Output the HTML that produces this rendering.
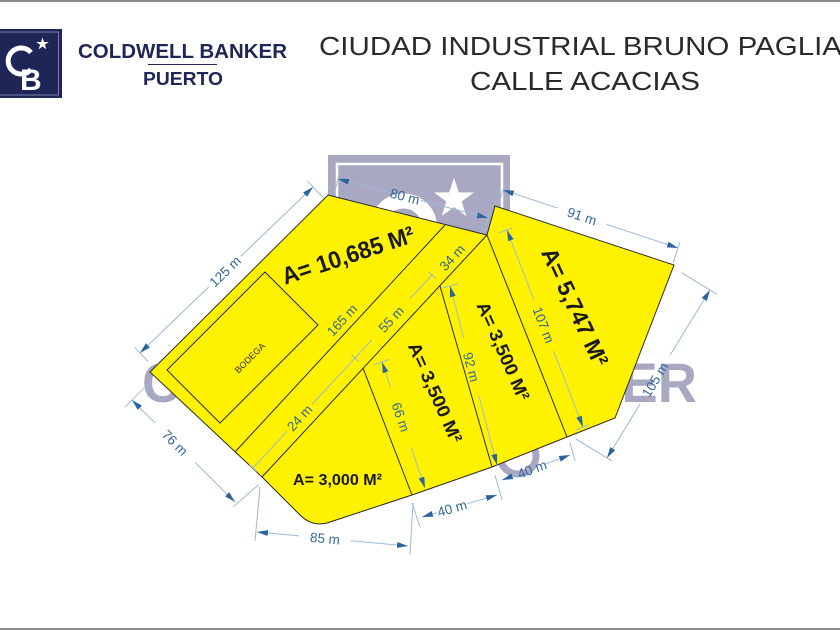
<!DOCTYPE html>
<html><head><meta charset="utf-8"><style>
html,body{margin:0;padding:0;background:#fff;}
svg{display:block;}
</style></head><body>
<svg width="840" height="630" viewBox="0 0 840 630" xmlns="http://www.w3.org/2000/svg" font-family="'Liberation Sans', Arial, sans-serif">
<defs>
<marker id="ar" viewBox="0 0 11 6" refX="11" refY="3" markerWidth="11" markerHeight="6" markerUnits="userSpaceOnUse" orient="auto"><path d="M0,0 L11,3 L0,6 z" fill="#2c659b"/></marker>
</defs>
<rect width="840" height="630" fill="#fff"/>
<rect x="0" y="0" width="840" height="2" fill="#8c8c8c"/>
<rect x="0" y="628" width="840" height="2" fill="#8c8c8c"/>

<!-- Logo -->
<rect x="0" y="29" width="62" height="69" fill="#1f2657"/>
<rect x="-2" y="32" width="60.5" height="63" fill="none" stroke="#7a80a8" stroke-width="1"/>
<path d="M31,52.5 A13,13 0 1 0 31,69.5" fill="none" stroke="#fff" stroke-width="5"/>
<text x="20" y="90" font-size="30" font-weight="bold" fill="#fff">B</text>
<path d="M42.5,37.5 L44,42 L48.7,42 L44.9,44.8 L46.3,49.3 L42.5,46.5 L38.7,49.3 L40.1,44.8 L36.3,42 L41,42 Z" fill="#fff"/>
<text x="78" y="58" font-size="20.5" font-weight="bold" fill="#1f2657" textLength="209" lengthAdjust="spacingAndGlyphs">COLDWELL BANKER</text>
<line x1="148" y1="64.5" x2="217" y2="64.5" stroke="#1f2657" stroke-width="1"/>
<text x="143" y="85" font-size="18" font-weight="bold" fill="#1f2657" textLength="80" lengthAdjust="spacingAndGlyphs">PUERTO</text>

<!-- Title -->
<text x="319" y="55" font-size="25.5" fill="#2a2a2a" textLength="523" lengthAdjust="spacingAndGlyphs">CIUDAD INDUSTRIAL BRUNO PAGLIA</text>
<text x="470" y="90" font-size="25.5" fill="#2a2a2a" textLength="230" lengthAdjust="spacingAndGlyphs">CALLE ACACIAS</text>

<!-- Watermark -->
<rect x="328" y="155" width="182" height="190" fill="#a9a8c2"/>
<rect x="337" y="164" width="165" height="170" fill="none" stroke="#fff" stroke-width="2.5"/>
<circle cx="403.5" cy="227" r="26" fill="none" stroke="#fff" stroke-width="15"/>
<path d="M454,178 L458.8,192.4 L474,192.5 L461.7,201.5 L466.3,216 L454,207.1 L441.7,216 L446.3,201.5 L434,192.5 L449.2,192.4 Z" fill="#fff"/>
<text x="142" y="402" font-size="56" font-weight="bold" fill="#a9a8c2" textLength="555" lengthAdjust="spacingAndGlyphs">COLDWELL BANKER</text>
<circle cx="518" cy="456" r="18" fill="none" stroke="#a9a8c2" stroke-width="7"/>

<!-- Lots -->
<path d="M328,195 L487,235 L495,206 L674,265 L615,418 L567,437 L492,467 L412,495 L330,522 Q313,528 300,515 L262,477 L150,372 Z" fill="#fff200" stroke="#2b2b2b" stroke-width="1"/>
<g stroke="#2b2b2b" stroke-width="1" fill="none">
<line x1="445" y1="225" x2="235" y2="452"/>
<line x1="487" y1="235" x2="262" y2="477"/>
<line x1="363" y1="368" x2="412" y2="495"/>
<line x1="440" y1="286" x2="492" y2="467"/>
<line x1="487" y1="235" x2="567" y2="437"/>
<path d="M265,272 L318,325 L220,423 L167,370 Z"/>
</g>
<text transform="translate(250,358) rotate(-45)" y="3" font-size="9" fill="#333" text-anchor="middle">BODEGA</text>

<!-- Dimension lines -->
<g stroke="#9db9d6" stroke-width="1" fill="none">
<line x1="209.1" y1="286.6" x2="140" y2="353" marker-end="url(#ar)"/>
<line x1="240.9" y1="256.2" x2="313" y2="187" marker-end="url(#ar)"/>
<line x1="134.5" y1="347.2" x2="148.3" y2="361.7"/>
<line x1="307.5" y1="181.2" x2="324" y2="198.5"/>
<line x1="389.5" y1="192.4" x2="338" y2="179" marker-end="url(#ar)"/>
<line x1="420.5" y1="200.4" x2="488" y2="218" marker-end="url(#ar)"/>
<line x1="340" y1="171.3" x2="334.5" y2="192.5"/>
<line x1="490" y1="210.3" x2="484.5" y2="231.5"/>
<line x1="557.3" y1="208" x2="503" y2="190" marker-end="url(#ar)"/>
<line x1="606.7" y1="224.4" x2="678" y2="248" marker-end="url(#ar)"/>
<line x1="504.9" y1="184.3" x2="498" y2="205.2"/>
<line x1="679.9" y1="242.3" x2="673" y2="263.2"/>
<line x1="639.8" y1="404.4" x2="607" y2="458" marker-end="url(#ar)"/>
<line x1="670.2" y1="355" x2="710" y2="290" marker-end="url(#ar)"/>
<line x1="681.9" y1="272.8" x2="716.8" y2="294.2"/>
<line x1="575.5" y1="438.7" x2="612.1" y2="461.1"/>
<line x1="533.5" y1="298.9" x2="507" y2="230" marker-end="url(#ar)"/>
<line x1="553.7" y1="351.1" x2="583" y2="427" marker-end="url(#ar)"/>
<line x1="499.5" y1="232.9" x2="512.6" y2="227.8"/>
<line x1="575.5" y1="429.9" x2="588.6" y2="424.8"/>
<line x1="463.7" y1="338" x2="450" y2="286" marker-end="url(#ar)"/>
<line x1="478.9" y1="396" x2="497" y2="465" marker-end="url(#ar)"/>
<line x1="442.3" y1="288" x2="457.7" y2="284"/>
<line x1="390.5" y1="386.7" x2="382" y2="362" marker-end="url(#ar)"/>
<line x1="411.1" y1="447.3" x2="425" y2="488" marker-end="url(#ar)"/>
<line x1="374.4" y1="364.6" x2="389.6" y2="359.4"/>
<line x1="299.1" y1="535.9" x2="257" y2="532" marker-end="url(#ar)"/>
<line x1="350.9" y1="540.7" x2="408" y2="546" marker-end="url(#ar)"/>
<line x1="260" y1="487" x2="255" y2="541"/>
<line x1="413" y1="503" x2="410" y2="555"/>
<line x1="436.7" y1="512.7" x2="422" y2="517" marker-end="url(#ar)"/>
<line x1="467.3" y1="503.7" x2="497" y2="495" marker-end="url(#ar)"/>
<line x1="412" y1="503" x2="420" y2="527"/>
<line x1="495" y1="475" x2="502" y2="500"/>
<line x1="518.9" y1="473.8" x2="502" y2="480" marker-end="url(#ar)"/>
<line x1="545.1" y1="464.2" x2="570" y2="455" marker-end="url(#ar)"/>
<line x1="570" y1="443" x2="575" y2="461"/>
<line x1="155.1" y1="422.9" x2="132" y2="400" marker-end="url(#ar)"/>
<line x1="194.9" y1="462.3" x2="235" y2="502" marker-end="url(#ar)"/>
<line x1="125" y1="407.1" x2="146.1" y2="385.8"/>
<line x1="233.3" y1="506.7" x2="258.3" y2="485"/>
<line x1="253" y1="468" x2="287" y2="431.3"/>
<line x1="312" y1="404.4" x2="372" y2="339.7"/>
<line x1="410" y1="298.7" x2="432" y2="275"/>
<line x1="351.3" y1="354.6" x2="358.7" y2="361.4"/>
<line x1="428.3" y1="271.6" x2="435.7" y2="278.4"/>
<line x1="249.3" y1="464.6" x2="256.7" y2="471.4"/>
</g>

<!-- Dimension labels -->
<g font-size="13.5" fill="#33679a" text-anchor="middle">
<text transform="translate(225,271.4) rotate(-43.8)" y="4.8">125 m</text>
<text transform="translate(405,196.4) rotate(14.6)" y="4.8">80 m</text>
<text transform="translate(582,216.2) rotate(18.3)" y="4.8">91 m</text>
<text transform="translate(655,379.7) rotate(-58.5)" y="4.8">105 m</text>
<text transform="translate(543.6,325) rotate(68.9)" y="4.8">107 m</text>
<text transform="translate(471.3,367) rotate(75.3)" y="4.8">92 m</text>
<text transform="translate(400.8,417) rotate(71.2)" y="4.8">66 m</text>
<text transform="translate(325,538.3) rotate(5.3)" y="4.8">85 m</text>
<text transform="translate(452,508.2) rotate(-16.3)" y="4.8">40 m</text>
<text transform="translate(532,469) rotate(-20.2)" y="4.8">40 m</text>
<text transform="translate(175,442.6) rotate(44.7)" y="4.8">76 m</text>
<text transform="translate(299.5,417.9) rotate(-47.1)" y="4.8">24 m</text>
<text transform="translate(391,319.2) rotate(-47.1)" y="4.8">55 m</text>
<text transform="translate(452,257.5) rotate(-47.1)" y="4.8">34 m</text>
<text transform="translate(342,320) rotate(-47.5)" y="4.8">165 m</text>
</g>

<!-- Area labels -->
<g font-weight="bold" fill="#1a1a1a" text-anchor="middle">
<text transform="translate(348,255) rotate(-18.3)" y="8.5" font-size="24" textLength="138" lengthAdjust="spacingAndGlyphs">A= 10,685 M²</text>
<text transform="translate(575,307) rotate(65)" y="8" font-size="23" textLength="128" lengthAdjust="spacingAndGlyphs">A= 5,747 M²</text>
<text transform="translate(503.5,351) rotate(66.3)" y="6.5" font-size="18" textLength="106" lengthAdjust="spacingAndGlyphs">A= 3,500 M²</text>
<text transform="translate(435.5,392.5) rotate(66)" y="6.5" font-size="18" textLength="108" lengthAdjust="spacingAndGlyphs">A= 3,500 M²</text>
</g>
<text x="293" y="485" font-size="16" font-weight="bold" fill="#1a1a1a" textLength="89" lengthAdjust="spacingAndGlyphs">A= 3,000 M²</text>
</svg>
</body></html>
